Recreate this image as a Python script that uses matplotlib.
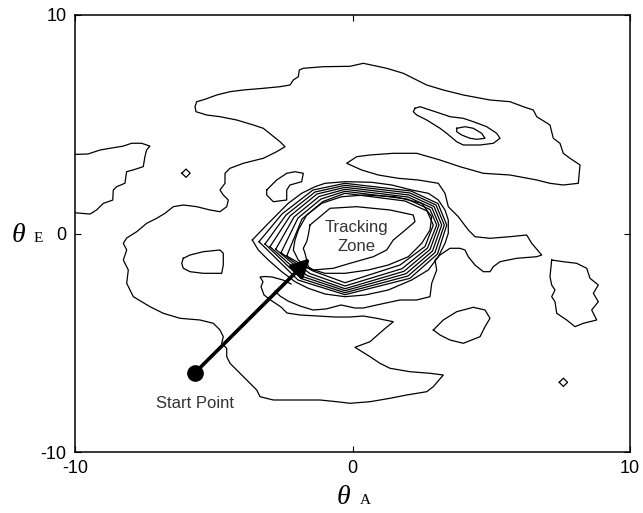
import numpy as np
import matplotlib
matplotlib.use('Agg')
from matplotlib import pyplot as plt

plt.rcParams['font.family'] = ['Liberation Sans', 'DejaVu Sans']
plt.rcParams['axes.unicode_minus'] = False

# contour lines (theta_A, theta_E)
main_line = [(-2.793, -2.632), (-2.613, -2.860), (-2.324, -3.089), (-1.892, -3.318), (-1.423, -3.501),
             (-0.955, -3.455), (-0.414, -3.272), (0.090, -3.410), (0.389, -3.410), (0.872, -3.272),
             (1.712, -3.043), (2.314, -3.043), (2.793, -2.892), (2.854, -2.279), (3.034, -1.670),
             (2.973, -1.213), (3.153, -0.984), (3.514, -0.677), (3.874, -0.677), (4.054, -0.755),
             (4.173, -1.062), (4.414, -1.442), (4.714, -1.748), (4.955, -1.748), (5.074, -1.519),
             (5.315, -1.291), (5.917, -1.135), (6.638, -1.062), (6.818, -0.984), (6.458, -0.449),
             (6.277, -0.069), (5.676, -0.146), (4.955, -0.220), (4.414, -0.146), (4.173, 0.160),
             (3.813, 0.769), (3.452, 1.227), (3.333, 1.840), (3.092, 2.297), (2.371, 2.449),
             (1.650, 2.526), (0.930, 2.677), (0.332, 2.906), (-0.209, 3.213), (0.151, 3.515),
             (0.631, 3.593), (1.470, 3.670), (2.314, 3.670), (3.153, 3.364), (3.874, 3.057),
             (4.714, 2.755), (5.676, 2.677), (6.638, 2.449), (7.117, 2.297), (7.596, 2.220),
             (8.137, 2.297), (8.198, 3.135), (7.838, 3.442), (7.596, 3.670), (7.477, 4.128),
             (7.236, 4.357), (7.117, 4.966), (6.638, 5.346), (6.515, 5.652), (6.155, 5.803),
             (5.676, 6.032), (4.955, 6.110), (3.993, 6.339), (3.272, 6.568), (2.674, 6.796),
             (1.831, 7.332), (1.232, 7.561), (0.389, 7.789), (-0.090, 7.652), (-1.052, 7.634),
             (-1.773, 7.561), (-1.917, 7.483), (-1.953, 7.176), (-2.133, 7.025), (-2.252, 6.796),
             (-2.613, 6.719), (-3.214, 6.645), (-3.935, 6.568), (-4.414, 6.490), (-4.894, 6.339),
             (-5.315, 6.142), (-5.614, 6.032), (-5.676, 5.803), (-5.640, 5.574), (-5.254, 5.423),
             (-4.775, 5.346), (-4.173, 5.195), (-3.575, 4.966), (-3.214, 4.815), (-2.912, 4.508),
             (-2.613, 4.201), (-2.432, 3.973), (-2.732, 3.744), (-3.214, 3.442), (-3.935, 3.213),
             (-4.414, 2.984), (-4.595, 2.755), (-4.595, 2.297), (-4.775, 1.991), (-4.656, 1.762),
             (-4.476, 1.533), (-4.533, 1.227), (-4.775, 0.998), (-5.135, 1.076), (-5.614, 1.227),
             (-6.097, 1.304), (-6.458, 1.227), (-6.757, 0.924), (-7.056, 0.696), (-7.416, 0.467),
             (-7.777, 0.082), (-8.137, -0.206), (-8.259, -0.449), (-8.137, -0.755), (-8.259, -1.213),
             (-8.079, -1.670), (-8.137, -2.279), (-7.899, -2.892), (-7.297, -3.350), (-6.818, -3.652),
             (-6.216, -3.881), (-5.495, -3.959), (-5.016, -4.110), (-4.775, -4.416), (-4.656, -4.723),
             (-4.714, -5.025), (-4.533, -5.254), (-4.533, -5.638), (-4.414, -5.941), (-4.173, -6.247),
             (-3.935, -6.554), (-3.694, -6.856), (-3.452, -7.162), (-3.333, -7.469), (-2.854, -7.620),
             (-2.252, -7.620), (-1.171, -7.620), (-0.569, -7.698), (-0.090, -7.771), (0.631, -7.698),
             (1.351, -7.542), (1.953, -7.391), (2.674, -7.240), (2.912, -7.011), (3.272, -6.476),
             (2.793, -6.398), (2.072, -6.325), (1.351, -6.169), (0.991, -5.941), (0.631, -5.638),
             (0.090, -5.208), (0.631, -4.952), (1.110, -4.416), (1.470, -4.037), (0.872, -3.881),
             (0.389, -3.776), (-0.090, -3.822), (-0.631, -3.822), (-1.243, -3.776), (-1.892, -3.730),
             (-2.360, -3.638), (-2.577, -3.364), (-2.901, -3.089), (-3.189, -2.815), (-3.297, -2.435),
             (-3.225, -2.206), (-3.333, -1.991), (-3.153, -1.968), (-2.901, -1.991), (-2.505, -2.128),
             (-2.216, -2.311)]

left_tongue = [(-10, 3.62), (-9.53, 3.64), (-9.10, 3.82), (-8.74, 3.90), (-8.26, 4.00), (-7.96, 4.13),
               (-7.60, 4.13), (-7.30, 4.00), (-7.42, 3.82), (-7.48, 3.52), (-7.54, 3.06), (-7.90, 2.91),
               (-8.14, 2.83), (-8.20, 2.30), (-8.50, 2.14), (-8.62, 1.99), (-8.64, 1.53), (-8.98, 1.38),
               (-9.22, 1.08), (-9.46, 0.89), (-10, 0.95)]

# closed contours
peak_outer = [(2.252, 5.730), (2.432, 5.803), (2.793, 5.652), (3.153, 5.501), (3.514, 5.346),
              (3.993, 5.272), (4.353, 5.117), (4.836, 4.888), (5.196, 4.586), (5.315, 4.357),
              (5.074, 4.128), (4.595, 4.050), (3.993, 4.050), (3.755, 4.201), (3.394, 4.586),
              (3.153, 4.815), (2.674, 5.195), (2.314, 5.423), (2.191, 5.574)]
peak_inner = [(3.755, 4.815), (4.054, 4.888), (4.353, 4.815), (4.656, 4.586), (4.775, 4.357),
              (4.476, 4.311), (4.234, 4.357), (3.935, 4.508), (3.755, 4.659)]
blob_top = [(-3.092, 1.991), (-2.732, 2.449), (-2.371, 2.755), (-2.072, 2.828), (-1.773, 2.755),
            (-1.831, 2.371), (-2.252, 2.220), (-2.371, 1.991), (-2.371, 1.533), (-2.854, 1.455),
            (-3.092, 1.762)]
blob_left = [(-6.097, -1.135), (-5.856, -0.984), (-5.377, -0.833), (-4.775, -0.755), (-4.656, -0.906),
             (-4.656, -1.442), (-4.714, -1.822), (-5.377, -1.822), (-5.856, -1.748), (-6.097, -1.592),
             (-6.155, -1.364)]
blob_low = [(2.912, -4.416), (3.272, -3.959), (3.755, -3.579), (4.353, -3.378), (4.775, -3.501),
            (4.955, -3.881), (4.775, -4.265), (4.595, -4.723), (3.993, -5.025), (3.514, -4.874),
            (3.153, -4.645)]
blob_right = [(7.178, -1.213), (7.596, -1.291), (8.079, -1.364), (8.440, -1.593), (8.559, -2.050),
              (8.858, -2.357), (8.678, -2.737), (8.858, -3.121), (8.620, -3.501), (8.800, -3.959),
              (8.317, -4.110), (8.018, -4.265), (7.719, -3.959), (7.359, -3.652), (7.297, -3.121),
              (7.178, -2.892), (7.297, -2.586), (7.178, -2.357), (7.117, -1.977)]
dot_left = [(-6.15, 2.76), (-6.0, 2.95), (-5.85, 2.76), (-6.0, 2.57)]
dot_right = [(7.45, -6.81), (7.60, -6.62), (7.75, -6.81), (7.60, -7.00)]

# tracking zone rings, inner to outer
ring1 = [(-1.532, 0.389), (-1.171, 0.769), (-0.811, 1.153), (0.151, 1.227), (1.351, 1.076),
         (2.191, 0.847), (2.252, 0.540), (1.831, 0.082), (1.470, -0.297), (1.232, -0.755),
         (0.750, -1.062), (-0.090, -1.364), (-0.692, -1.593), (-1.413, -1.670), (-1.593, -1.519),
         (-1.650, -1.213), (-1.712, -0.906), (-1.773, -0.677), (-1.650, -0.375), (-1.593, -0.069)]
ring2 = [(-1.953, 0.160), (-1.650, 0.847), (-1.110, 1.382), (-0.389, 1.684), (0.450, 1.762),
         (1.532, 1.684), (2.494, 1.382), (2.854, 0.769), (2.793, 0.160), (2.494, -0.449),
         (2.011, -1.062), (1.290, -1.442), (0.569, -1.670), (-0.270, -1.822), (-0.991, -1.822),
         (-1.593, -1.593), (-1.953, -1.213), (-2.133, -0.755), (-2.072, -0.297)]
ring3 = [(-2.371, -1.030), (-1.820, 0.664), (-1.063, 1.465), (-0.270, 1.840), (1.892, 1.487),
         (2.685, 1.030), (2.912, 0.389), (2.613, -0.595), (1.712, -1.442), (-0.270, -2.252),
         (-1.423, -1.716)]
ring4 = [(-2.577, -0.879), (-1.964, 0.709), (-1.135, 1.579), (-0.270, 1.931), (1.964, 1.579),
         (2.793, 1.098), (3.034, 0.389), (2.703, -0.664), (1.784, -1.611), (-0.270, -2.403),
         (-1.532, -1.831)]
ring5 = [(-2.768, -0.723), (-2.108, 0.755), (-1.207, 1.693), (-0.270, 2.023), (2.000, 1.670),
         (2.865, 1.167), (3.117, 0.389), (2.793, -0.732), (1.856, -1.730), (-0.270, -2.526),
         (-1.640, -1.922)]
ring6 = [(-2.973, -0.604), (-2.252, 0.801), (-1.279, 1.808), (-0.270, 2.114), (2.036, 1.762),
         (2.937, 1.236), (3.214, 0.389), (2.883, -0.801), (1.928, -1.840), (-0.270, -2.618),
         (-1.748, -1.991)]
ring7 = [(-3.153, -0.481), (-2.396, 0.847), (-1.351, 1.899), (-0.270, 2.206), (2.072, 1.854),
         (3.009, 1.304), (3.308, 0.389), (2.973, -0.870), (2.000, -1.945), (-0.270, -2.709),
         (-1.856, -2.059)]
ring8 = [(-3.369, -0.375), (-2.541, 0.892), (-1.423, 1.991), (-0.270, 2.297), (2.108, 1.945),
         (3.081, 1.373), (3.395, 0.389), (3.063, -0.938), (2.072, -2.050), (-0.270, -2.801),
         (-1.964, -2.128)]
ring9 = [(-3.611, -0.297), (-3.153, 0.311), (-2.674, 0.924), (-2.314, 1.382), (-1.831, 1.840),
         (-1.351, 2.142), (-0.991, 2.297), (-0.270, 2.371), (0.692, 2.343), (1.413, 2.220),
         (2.133, 1.991), (2.732, 1.840), (3.092, 1.533), (3.333, 1.076), (3.452, 0.618),
         (3.452, 0.009), (3.333, -0.449), (3.092, -1.062), (2.732, -1.670), (2.133, -2.128),
         (1.290, -2.586), (0.450, -2.815), (-0.270, -2.892), (-0.991, -2.769), (-1.593, -2.508),
         (-2.072, -2.206), (-2.551, -1.748), (-3.034, -1.213), (-3.395, -0.755)]

start_point = (-5.676, -6.371)
arrow_tip = (-1.532, -1.135)

fig = plt.figure(figsize=(6.43, 5.13), dpi=100)
ax = fig.add_axes([75 / 643, 61 / 513, 555 / 643, 437 / 513])

open_lines = [main_line, left_tongue]
closed_lines = [peak_outer, peak_inner, blob_top, blob_left, blob_low, blob_right,
                dot_left, dot_right, ring1, ring2, ring3, ring4, ring5, ring6, ring7, ring8, ring9]

for line in open_lines:
    pts = np.array(line)
    ax.plot(pts[:, 0], pts[:, 1], color='black', lw=0.9)
for line in closed_lines:
    pts = np.array(line + [line[0]])
    ax.plot(pts[:, 0], pts[:, 1], color='black', lw=0.9)

# start point and arrow
ax.annotate('', xy=arrow_tip, xytext=start_point,
            arrowprops=dict(arrowstyle='-|>,head_length=0.55,head_width=0.28', lw=2.6,
                            color='black', mutation_scale=20, shrinkA=0, shrinkB=0))
ax.plot(start_point[0], start_point[1], 'o', color='black', ms=11)
ax.text(-5.676, -7.8, 'Start Point', ha='center', va='center', fontsize=12, color='#333333')
ax.text(0.144, -0.16, 'Tracking\nZone', ha='center', va='center', fontsize=12,
        color='#333333', linespacing=1.35)

ax.set_xlim(-10, 10)
ax.set_ylim(-10, 10)
ax.set_xticks([-10, 0, 10])
ax.set_yticks([-10, 0, 10])
ax.tick_params(direction='in', length=4, top=True, right=True, labelsize=13, pad=6)
for s in ax.spines.values():
    s.set_linewidth(1.1)

# axis labels: big italic theta with small upright letter
fig.text(18 / 643, 1 - 236 / 513, '\u03b8', fontsize=20, style='italic',
         family='Liberation Serif', ha='center', va='center')
fig.text(38 / 643, 1 - 238 / 513, 'E', fontsize=11, family='Liberation Serif',
         ha='center', va='center')
fig.text(343 / 643, 1 - 497 / 513, '\u03b8', fontsize=20, style='italic',
         family='Liberation Serif', ha='center', va='center')
fig.text(365 / 643, 1 - 500 / 513, 'A', fontsize=11, family='Liberation Serif',
         ha='center', va='center')

plt.savefig('out.png', dpi=100)
